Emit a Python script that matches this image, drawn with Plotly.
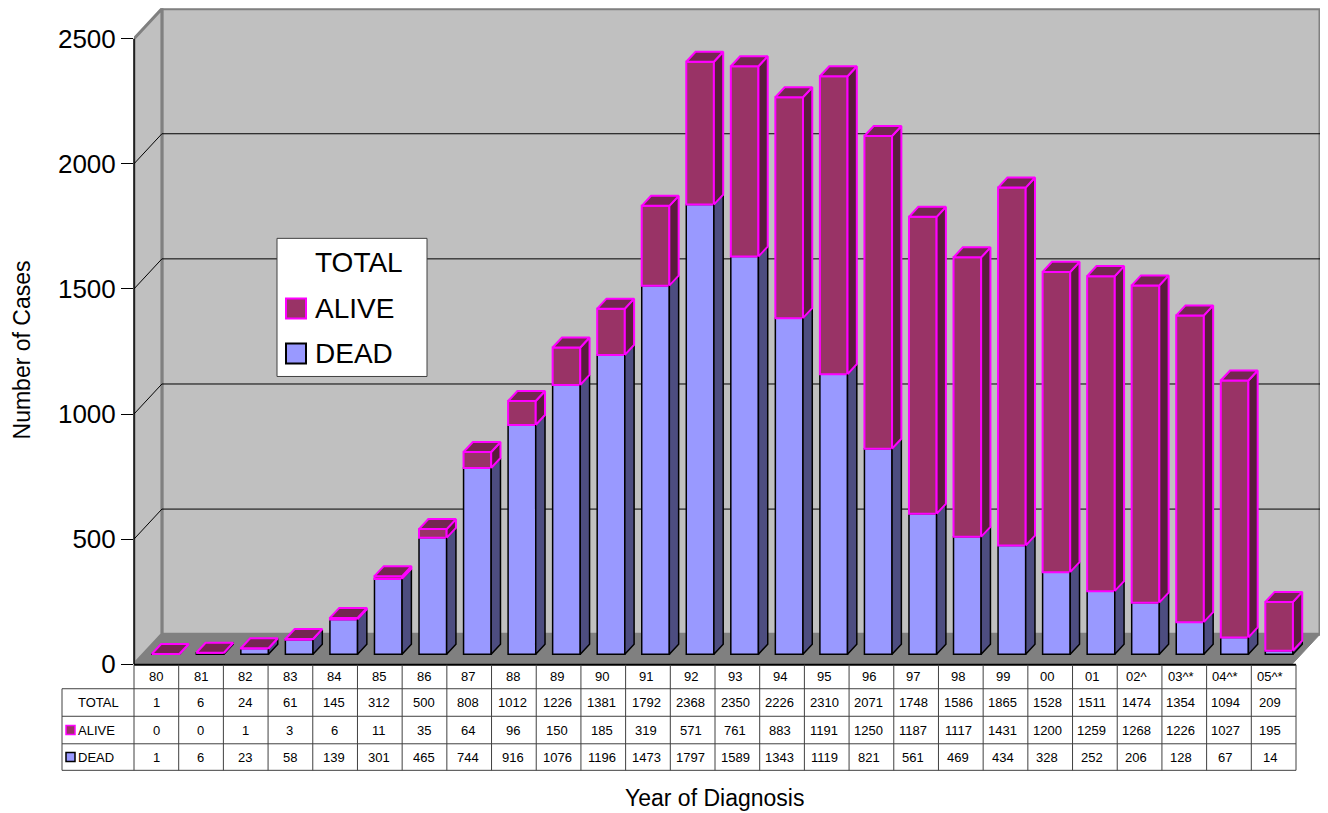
import plotly.graph_objects as go

# ---------------- data ----------------
years = ["80", "81", "82", "83", "84", "85", "86", "87", "88", "89", "90", "91", "92",
         "93", "94", "95", "96", "97", "98", "99", "00", "01", "02^", "03^*", "04^*", "05^*"]
total = [1, 6, 24, 61, 145, 312, 500, 808, 1012, 1226, 1381, 1792, 2368,
         2350, 2226, 2310, 2071, 1748, 1586, 1865, 1528, 1511, 1474, 1354, 1094, 209]
alive = [0, 0, 1, 3, 6, 11, 35, 64, 96, 150, 185, 319, 571,
         761, 883, 1191, 1250, 1187, 1117, 1431, 1200, 1259, 1268, 1226, 1027, 195]
dead = [1, 6, 23, 58, 139, 301, 465, 744, 916, 1076, 1196, 1473, 1797,
        1589, 1343, 1119, 821, 561, 469, 434, 328, 252, 206, 128, 67, 14]
y_ticks = [0, 500, 1000, 1500, 2000, 2500]

# ---------------- geometry (in reference pixel coords) ----------------
REF_H = 813
M = 8                     # default body margin of the page
CAP_H = 829               # captured page height
W = 1328 - 2 * M
H = CAP_H - 2 * M
SY = CAP_H / REF_H
N = len(years)
X0_PX, X1_PX = 134, 1296
CAT_PX = (X1_PX - X0_PX) / N
Y0_PX, YTOP_PX = 663.5, 38.5
UNIT_PX = (Y0_PX - YTOP_PX) / 2500.0
DX = 28 / CAT_PX          # depth offset in x units
DY = 30 / UNIT_PX         # depth offset in y units
XR = [-0.5, N - 0.5 + DX]
YR = [0, (Y0_PX - M) / UNIT_PX]
BW = 0.62                 # bar width
OX, OY = DX / 3, DY / 3   # bar front offset and bar depth

def px(p):
    return (p - M) / W

def py(p):
    return 1 - (p * SY - M) / H

def xpaper(xd):
    return px(X0_PX + (xd - XR[0]) * CAT_PX)

x_dom = [px(X0_PX), min(1.0, px(X0_PX + (XR[1] - XR[0]) * CAT_PX))]
y_dom = [py(Y0_PX), min(1.0, py(Y0_PX - YR[1] * UNIT_PX))]

FONT = "Liberation Sans, Arial, sans-serif"
C_ALIVE, C_ALIVE_TOP, C_ALIVE_SIDE, C_ALIVE_LINE = "#993366", "#742650", "#5a1c3c", "#ff00ff"
C_DEAD, C_DEAD_SIDE, C_DEAD_LINE = "#9999ff", "#4d4d80", "#000000"

fig = go.Figure()

# front faces
idx = list(range(N))
fig.add_trace(go.Bar(x=[i + OX for i in idx], y=dead, base=[OY] * N, width=BW,
                     marker=dict(color=C_DEAD, line=dict(color=C_DEAD_LINE, width=1.5)),
                     name="DEAD", hoverinfo="skip"))
fig.add_trace(go.Bar(x=[i + OX for i in idx], y=alive, base=[OY + d for d in dead], width=BW,
                     marker=dict(color=C_ALIVE, line=dict(color=C_ALIVE_LINE, width=2)),
                     name="ALIVE", hoverinfo="skip"))

# side and top faces
ds_x, ds_y, as_x, as_y, at_x, at_y = [], [], [], [], [], []
for i in idx:
    xl = i + OX - BW / 2
    xr = i + OX + BW / 2
    d, t = dead[i], total[i]
    ds_x += [xr, xr + OX, xr + OX, xr, xr, None]
    ds_y += [OY, 2 * OY, d + 2 * OY, d + OY, OY, None]
    as_x += [xr, xr + OX, xr + OX, xr, xr, None]
    as_y += [d + OY, d + 2 * OY, t + 2 * OY, t + OY, d + OY, None]
    at_x += [xl, xr, xr + OX, xl + OX, xl, None]
    at_y += [t + OY, t + OY, t + 2 * OY, t + 2 * OY, t + OY, None]

fig.add_trace(go.Scatter(x=ds_x, y=ds_y, mode="lines", fill="toself", fillcolor=C_DEAD_SIDE,
                         line=dict(color="#000000", width=1.5), hoverinfo="skip", showlegend=False))
fig.add_trace(go.Scatter(x=as_x, y=as_y, mode="lines", fill="toself", fillcolor=C_ALIVE_SIDE,
                         line=dict(color=C_ALIVE_LINE, width=2), hoverinfo="skip", showlegend=False))
fig.add_trace(go.Scatter(x=at_x, y=at_y, mode="lines", fill="toself", fillcolor=C_ALIVE_TOP,
                         line=dict(color=C_ALIVE_LINE, width=2), hoverinfo="skip", showlegend=False))

shapes = []
# back wall
shapes.append(dict(type="rect", xref="x", yref="y", layer="below",
                   x0=-0.5 + DX, x1=N - 0.5 + DX, y0=DY, y1=2500 + DY,
                   fillcolor="#c0c0c0", line=dict(color="#808080", width=3)))
# left wall
shapes.append(dict(type="path", xref="x", yref="y", layer="below",
                   path=f"M {-0.5},0 L {-0.5},2500 L {-0.5 + DX},{2500 + DY} L {-0.5 + DX},{DY} Z",
                   fillcolor="#c0c0c0", line=dict(color="#808080", width=3)))
# floor
shapes.append(dict(type="path", xref="x", yref="y", layer="below",
                   path=f"M {-0.5},0 L {N - 0.5},0 L {N - 0.5 + DX},{DY} L {-0.5 + DX},{DY} Z",
                   fillcolor="#808080", line=dict(color="#808080", width=1)))
# gridlines
for v in y_ticks[1:-1]:
    shapes.append(dict(type="line", xref="x", yref="y", layer="below",
                       x0=-0.5 + DX, x1=N - 0.5 + DX, y0=v + DY, y1=v + DY,
                       line=dict(color="#000000", width=1)))
    shapes.append(dict(type="line", xref="x", yref="y", layer="below",
                       x0=-0.5, x1=-0.5 + DX, y0=v, y1=v + DY,
                       line=dict(color="#000000", width=1)))
# front vertical axis line
shapes.append(dict(type="line", xref="paper", yref="paper",
                   x0=px(X0_PX), x1=px(X0_PX), y0=py(Y0_PX), y1=py(YTOP_PX),
                   line=dict(color="#000000", width=1.5)))

# ---------------- data table ----------------
rows_px = [664, 688, 715.5, 743, 769.5]
row_c = [(rows_px[k] + rows_px[k + 1]) / 2 for k in range(4)]
TL = 62
LC = "#404040"
shapes.append(dict(type="line", xref="paper", yref="paper",
                   x0=xpaper(-0.5), x1=xpaper(N - 0.5), y0=py(rows_px[0]), y1=py(rows_px[0]),
                   line=dict(color="#000000", width=2)))
for r in rows_px[1:]:
    shapes.append(dict(type="line", xref="paper", yref="paper",
                       x0=px(TL), x1=xpaper(N - 0.5), y0=py(r), y1=py(r),
                       line=dict(color=LC, width=1)))
for k in range(N + 1):
    shapes.append(dict(type="line", xref="paper", yref="paper",
                       x0=xpaper(k - 0.5), x1=xpaper(k - 0.5), y0=py(rows_px[0]), y1=py(rows_px[-1]),
                       line=dict(color=LC, width=1)))
shapes.append(dict(type="line", xref="paper", yref="paper",
                   x0=px(TL), x1=px(TL), y0=py(rows_px[1]), y1=py(rows_px[-1]),
                   line=dict(color=LC, width=1)))

annotations = []
TF = dict(family=FONT, size=13, color="#000000")
for i in idx:
    for val, rc in [(years[i], row_c[0]), (total[i], row_c[1]), (alive[i], row_c[2]), (dead[i], row_c[3])]:
        annotations.append(dict(x=i, xref="x", y=py(rc), yref="paper", text=str(val),
                                showarrow=False, xanchor="center", yanchor="middle", font=TF))
annotations.append(dict(x=px(98), xref="paper", y=py(row_c[1]), yref="paper", text="TOTAL",
                        showarrow=False, xanchor="center", yanchor="middle", font=TF))
annotations.append(dict(x=px(76), xref="paper", y=py(row_c[2]), yref="paper", text="ALIVE",
                        showarrow=False, xanchor="left", yanchor="middle", font=TF))
annotations.append(dict(x=px(76), xref="paper", y=py(row_c[3]), yref="paper", text="DEAD",
                        showarrow=False, xanchor="left", yanchor="middle", font=TF))
for rc, fc, lc in [(row_c[2], C_ALIVE, C_ALIVE_LINE), (row_c[3], C_DEAD, "#000000")]:
    shapes.append(dict(type="rect", xref="paper", yref="paper",
                       x0=px(66), x1=px(75), y0=py(rc + 4.5), y1=py(rc - 4.5),
                       fillcolor=fc, line=dict(color=lc, width=1.5)))

# ---------------- legend ----------------
shapes.append(dict(type="rect", xref="paper", yref="paper",
                   x0=px(277), x1=px(427), y0=py(376), y1=py(238),
                   fillcolor="#ffffff", line=dict(color="#404040", width=1)))
LF = dict(family=FONT, size=28, color="#000000")
for txt, yc in [("TOTAL", 262), ("ALIVE", 308), ("DEAD", 353)]:
    annotations.append(dict(x=px(313), xref="paper", y=py(yc), yref="paper", text=txt,
                            showarrow=False, xanchor="left", yanchor="middle", font=LF))
for yc, fc, lc in [(308, C_ALIVE, C_ALIVE_LINE), (353, C_DEAD, "#000000")]:
    shapes.append(dict(type="rect", xref="paper", yref="paper",
                       x0=px(286), x1=px(306), y0=py(yc + 10), y1=py(yc - 10),
                       fillcolor=fc, line=dict(color=lc, width=2)))

# ---------------- axis titles ----------------
annotations.append(dict(x=px(22), xref="paper", y=py(350), yref="paper", text="Number of Cases",
                        textangle=-90, showarrow=False, xanchor="center", yanchor="middle",
                        font=dict(family=FONT, size=23, color="#000000")))
annotations.append(dict(x=px(714), xref="paper", y=py(797), yref="paper", text="Year of Diagnosis",
                        showarrow=False, xanchor="center", yanchor="middle",
                        font=dict(family=FONT, size=23, color="#000000")))

fig.update_layout(
    width=W, height=H,
    margin=dict(l=0, r=0, t=0, b=0),
    paper_bgcolor="#ffffff", plot_bgcolor="rgba(0,0,0,0)",
    barmode="overlay", showlegend=False,
    shapes=shapes, annotations=annotations,
    xaxis=dict(domain=x_dom, range=XR, showgrid=False, zeroline=False, showline=False,
               showticklabels=False, ticks="", fixedrange=True),
    yaxis=dict(domain=y_dom, range=YR, showgrid=False, zeroline=False, showline=False,
               tickmode="array", tickvals=y_ticks, ticktext=[str(v) for v in y_ticks],
               ticks="outside", ticklen=12, tickcolor="#000000", tickwidth=1,
               tickfont=dict(family=FONT, size=26, color="#000000"), fixedrange=True),
    hovermode=False,
)

fig.write_html("out.html", config={"displayModeBar": False})
